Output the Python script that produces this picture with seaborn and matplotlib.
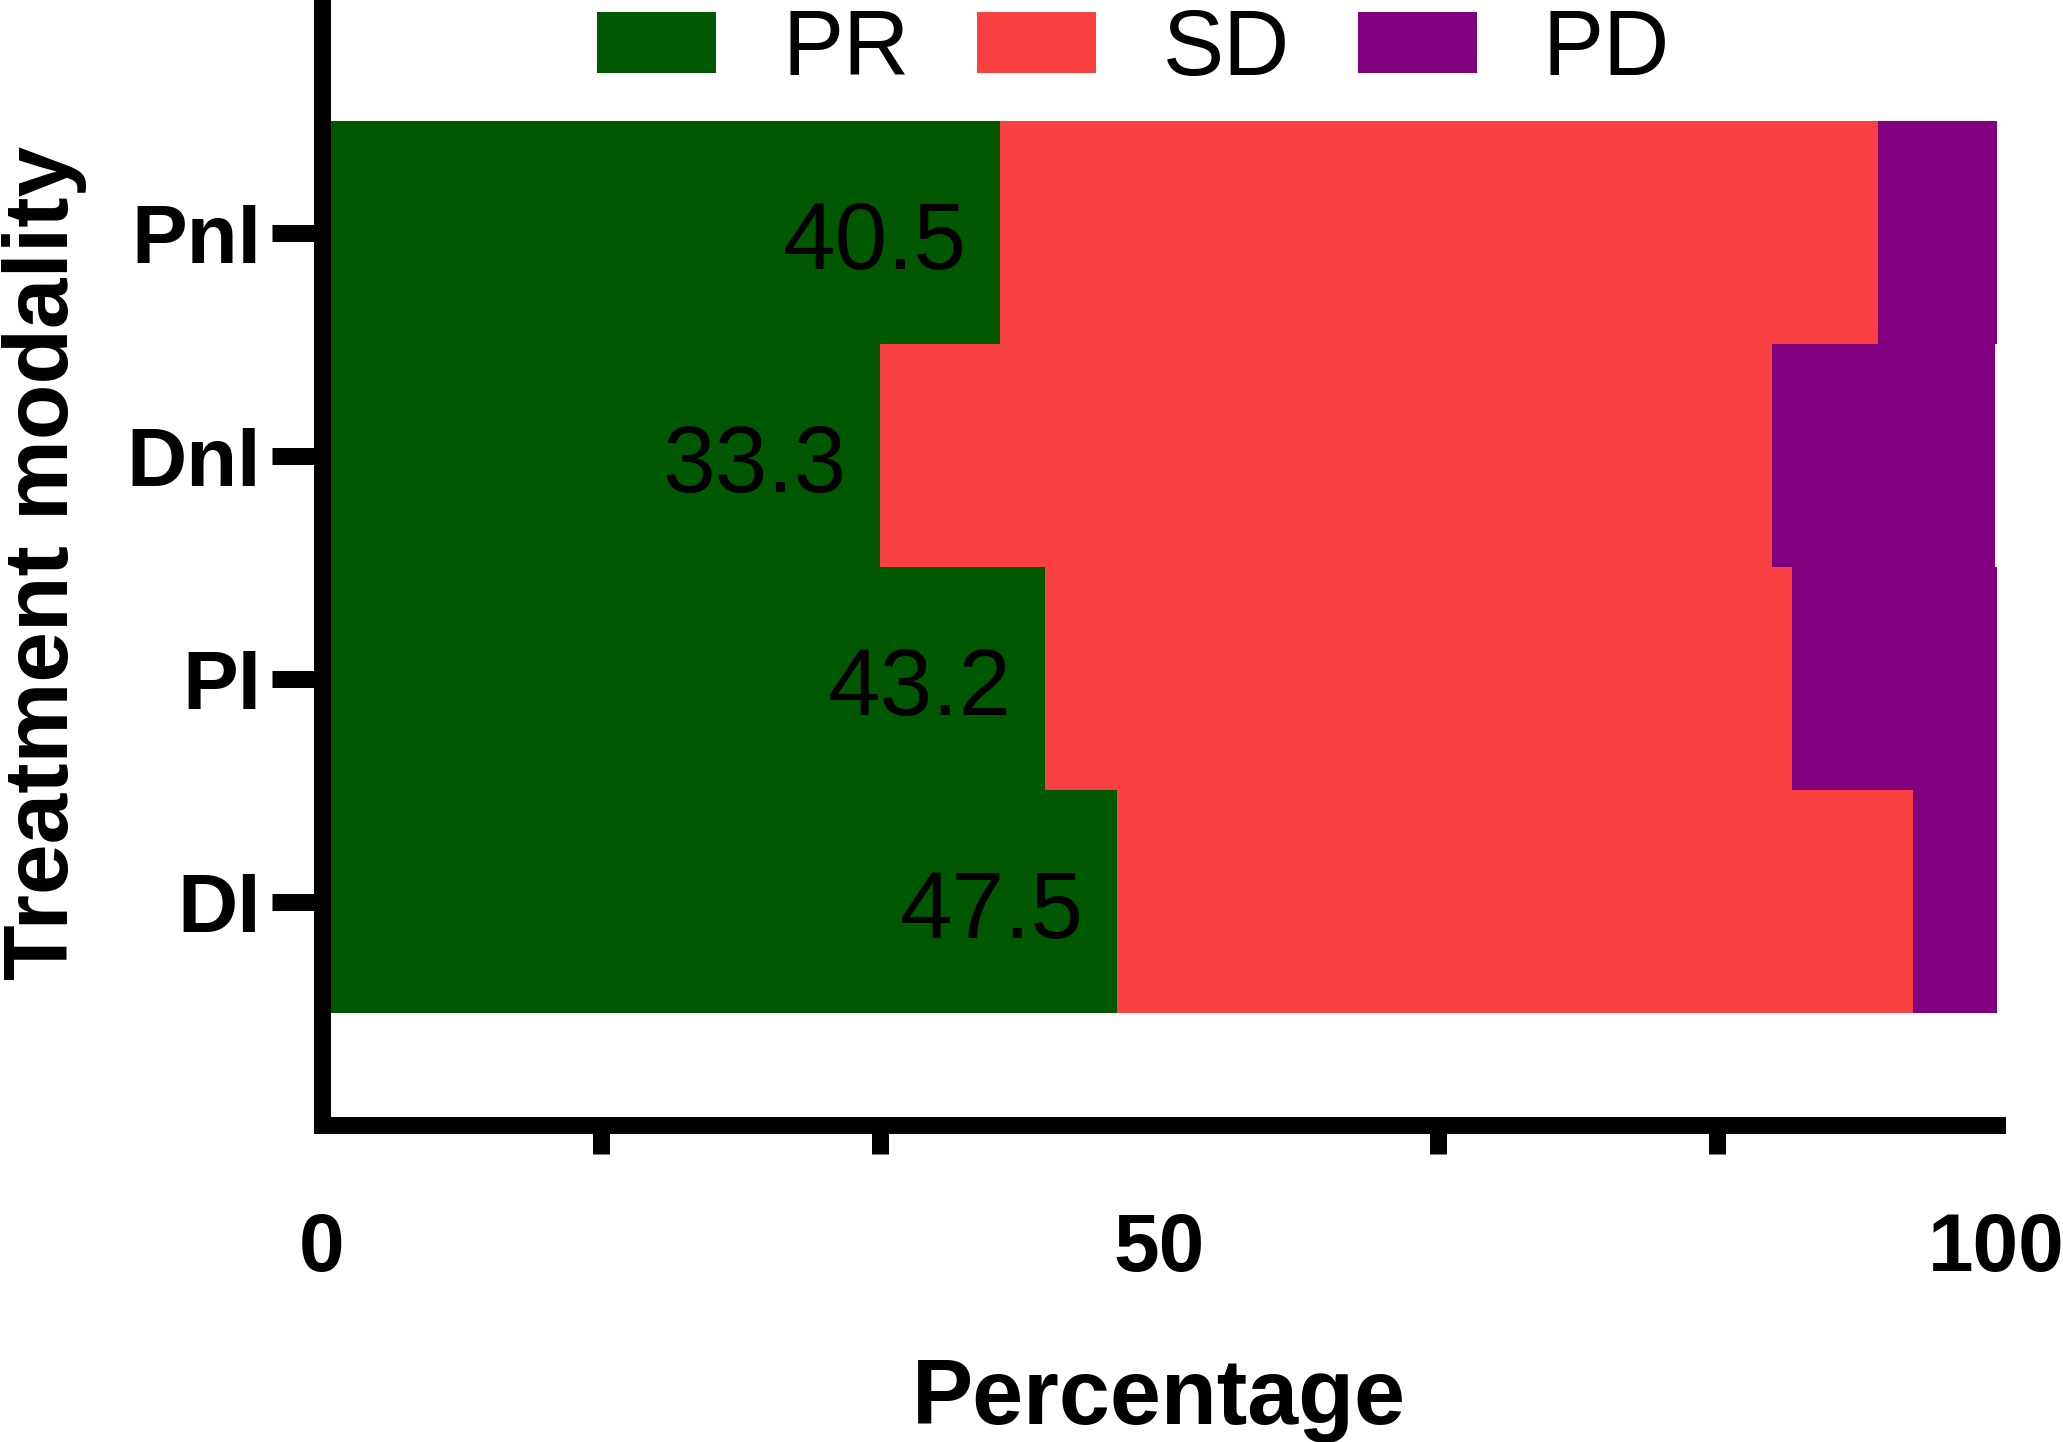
import matplotlib
matplotlib.use("Agg")
import matplotlib.pyplot as plt
import seaborn as sns
import pandas as pd
import numpy as np

# ---- data ----
categories = ["PnI", "DnI", "PI", "DI"]
pr_values = [40.5, 33.3, 43.2, 47.5]
sd_values = [52.4, 53.3, 44.6, 47.5]
pd_values = [7.1, 13.3, 12.2, 5.0]
series_names = ["PR", "SD", "PD"]
series_colors = ["#005900", "#FA4141", "#800080"]
x_major_ticks = [0, 50, 100]
x_tick_labels = ["0", "50", "100"]
x_minor_ticks = [100 / 6, 200 / 6, 400 / 6, 500 / 6]

sns.set_theme(style="white")
plt.rcParams["font.family"] = ["Liberation Sans", "DejaVu Sans"]
plt.rcParams["text.color"] = "black"
plt.rcParams["axes.labelcolor"] = "black"
plt.rcParams["xtick.color"] = "black"
plt.rcParams["ytick.color"] = "black"

W, H = 2063, 1442
fig = plt.figure(figsize=(W / 100, H / 100), dpi=100)
ax_left, ax_right = 322 / W, 1996.5 / W
ax_bottom_px = 1125
ax = fig.add_axes([ax_left, (H - ax_bottom_px) / H, ax_right - ax_left, ax_bottom_px / H])

df = pd.DataFrame({
    "cat": categories,
    "PR": pr_values,
    "SD": sd_values,
    "PD": pd_values,
})
df["cum_PR"] = df["PR"]
df["cum_SD"] = df["PR"] + df["SD"]
df["cum_PD"] = df["PR"] + df["SD"] + df["PD"]

# draw stacked bars: largest cumulative first
for col, color in [("cum_PD", series_colors[2]), ("cum_SD", series_colors[1]), ("cum_PR", series_colors[0])]:
    sns.barplot(data=df, x=col, y="cat", order=categories, color=color, width=1.0,
                orient="h", ax=ax, linewidth=0, edgecolor="none", saturation=1)

# labels inside PR bars
for i, v in enumerate(pr_values):
    ax.text(v - 2.0, i + 0.01, f"{v:.1f}", ha="right", va="center_baseline",
            fontsize=68, color="black", fontweight="normal")

ax.set_xlim(0, 100)
ax.set_ylim(4.002, -1.043)

# spines
lw = 12.24
for s in ["top", "right"]:
    ax.spines[s].set_visible(False)
for s in ["left", "bottom"]:
    ax.spines[s].set_linewidth(lw)
    ax.spines[s].set_color("black")
    ax.spines[s].set_capstyle("projecting")

ax.set_xticks(x_major_ticks)
ax.set_xticklabels(x_tick_labels)
ax.set_xticks(x_minor_ticks, minor=True)
ax.tick_params(axis="x", which="major", direction="out", length=36, width=lw,
               color="black", pad=27, labelsize=59, labelcolor="black")
ax.tick_params(axis="x", which="minor", direction="out", length=21, width=lw,
               color="black", bottom=True)
ax.tick_params(axis="y", which="major", direction="out", length=36, width=lw,
               color="black", pad=8, labelsize=60, left=True, labelcolor="black")
for lab in ax.get_xticklabels() + ax.get_yticklabels():
    lab.set_fontweight("bold")

ax.set_xlabel("Percentage", fontsize=66, fontweight="bold", color="black")
ax.set_ylabel("Treatment modality", fontsize=65.5, fontweight="bold", color="black")
ax.xaxis.set_label_coords(0.5, -0.206)
ax.yaxis.set_label_coords(-0.1403, 0.5)
ax.grid(False)

# legend
from matplotlib.patches import Patch
handles = [Patch(facecolor=c, edgecolor="none") for c in series_colors]
leg = fig.legend(handles, series_names, loc="center left",
                 bbox_to_anchor=(597 / W, 1 - 51 / H), ncol=3, frameon=False,
                 fontsize=66, handlelength=1.30, handleheight=0.65,
                 handletextpad=0.72, columnspacing=0.74, borderpad=0,
                 borderaxespad=0, labelcolor="black")

fig.savefig("out.png", dpi=100)
